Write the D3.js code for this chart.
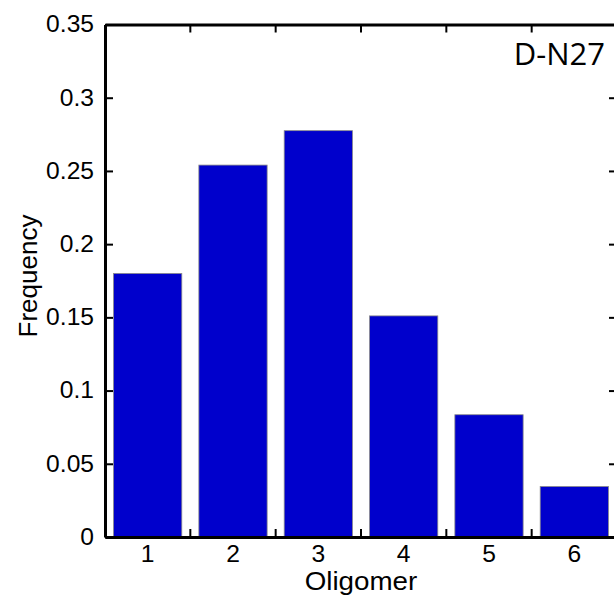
<!DOCTYPE html>
<html>
<head>
<meta charset="utf-8">
<script src="https://cdn.jsdelivr.net/npm/d3@7"></script>
<style>
  html, body { margin: 0; padding: 0; background: #fff; overflow: hidden; }
  svg { display: block; }
</style>
</head>
<body>
<script>
// Oligomer size distribution for D-N27
const categories = ["1", "2", "3", "4", "5", "6"];
const frequency = [0.180, 0.254, 0.2775, 0.151, 0.0835, 0.0345];
const yTicks = [0, 0.05, 0.1, 0.15, 0.2, 0.25, 0.3, 0.35];
const yTickLabels = ["0", "0.05", "0.1", "0.15", "0.2", "0.25", "0.3", "0.35"];
const panelLabel = "D-N27";

const W = 614, H = 601;
const margin = { left: 105, top: 24.5, right: W - 617, bottom: H - 537 };
const fontMain = "Liberation Sans, Arial, sans-serif";

// widen a text element horizontally by a factor, keeping its anchor
function widen(sel, factor) {
  sel.each(function () {
    const len = this.getComputedTextLength();
    d3.select(this)
      .attr("textLength", len * factor)
      .attr("lengthAdjust", "spacingAndGlyphs");
  });
}

const svg = d3.select("body").append("svg")
  .attr("width", W).attr("height", H);

const x = d3.scaleBand()
  .domain(categories)
  .range([margin.left, W - margin.right])
  .paddingInner(0.2)
  .paddingOuter(0.1);

const y = d3.scaleLinear()
  .domain([0, 0.35])
  .range([H - margin.bottom, margin.top]);

// bars
svg.append("g").selectAll("rect")
  .data(frequency)
  .join("rect")
  .attr("x", (d, i) => x(categories[i]))
  .attr("width", x.bandwidth())
  .attr("y", d => y(d))
  .attr("height", d => y(0) - y(d))
  .attr("fill", "#0000cc")
  .attr("stroke", "#8a8a8a")
  .attr("stroke-width", 0.8);

// tick positions between categories on the x axes
const boundaryScale = d3.scaleLinear()
  .domain([0, categories.length])
  .range([margin.left, W - margin.right]);
const boundaries = d3.range(1, categories.length).map(k => boundaryScale(k));

// left axis
const yAxis = d3.axisLeft(y)
  .tickValues(yTicks)
  .tickFormat((d, i) => yTickLabels[i])
  .tickSizeInner(-8)
  .tickSizeOuter(0)
  .tickPadding(10);
const gy = svg.append("g")
  .attr("transform", `translate(${margin.left},0)`)
  .call(yAxis);
gy.selectAll("text")
  .attr("font-size", 23)
  .attr("font-family", fontMain)
  .attr("fill", "#000")
  .attr("dx", -1)
  .call(widen, 1.07);

// right axis (ticks only)
svg.append("g")
  .attr("transform", `translate(${W - margin.right},0)`)
  .call(d3.axisRight(y).tickValues(yTicks).tickFormat("").tickSizeInner(-8).tickSizeOuter(0));

// bottom axis: category labels at band centres, ticks at band boundaries
const gx = svg.append("g")
  .attr("transform", `translate(0,${y(0)})`)
  .call(d3.axisBottom(x).tickSize(0).tickPadding(9));
gx.selectAll("text")
  .attr("font-size", 23)
  .attr("font-family", fontMain)
  .attr("fill", "#000")
  .call(widen, 1.07);
gx.selectAll(".boundary")
  .data(boundaries)
  .join("line")
  .attr("class", "boundary")
  .attr("x1", d => d).attr("x2", d => d)
  .attr("y1", 0).attr("y2", -8)
  .attr("stroke", "#000").attr("stroke-width", 2);

// top axis ticks
const gt = svg.append("g")
  .attr("transform", `translate(0,${margin.top})`)
  .call(d3.axisTop(x).tickSize(0).tickFormat(""));
gt.selectAll(".boundary")
  .data(boundaries)
  .join("line")
  .attr("class", "boundary")
  .attr("x1", d => d).attr("x2", d => d)
  .attr("y1", 0).attr("y2", 8)
  .attr("stroke", "#000").attr("stroke-width", 2);

// axis styling
svg.selectAll(".domain").attr("stroke", "#000").attr("stroke-width", 3);
svg.selectAll(".tick line").attr("stroke", "#000").attr("stroke-width", 2);

// axis titles
svg.append("text")
  .attr("x", (margin.left + W - margin.right) / 2)
  .attr("y", 590)
  .attr("text-anchor", "middle")
  .attr("font-family", fontMain)
  .attr("font-size", 25)
  .attr("fill", "#000")
  .text("Oligomer")
  .call(widen, 1.11);

svg.append("text")
  .attr("transform", `translate(36.5,276) rotate(-90)`)
  .attr("text-anchor", "middle")
  .attr("font-family", fontMain)
  .attr("font-size", 26)
  .attr("fill", "#000")
  .text("Frequency");

// panel label
svg.append("text")
  .attr("x", 605)
  .attr("y", 65)
  .attr("text-anchor", "end")
  .attr("font-family", "Open Sans, Noto Sans, sans-serif")
  .attr("font-size", 31)
  .attr("fill", "#000")
  .text(panelLabel);
</script>
</body>
</html>
